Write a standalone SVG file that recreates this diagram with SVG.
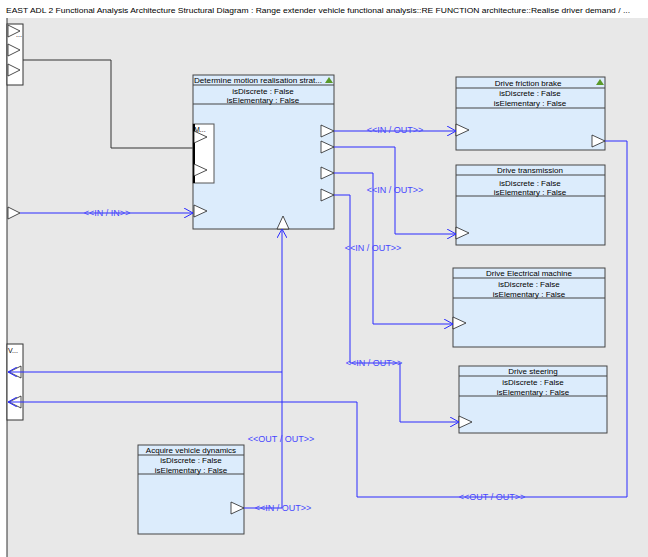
<svg xmlns="http://www.w3.org/2000/svg" width="648" height="557" viewBox="0 0 648 557">
<defs>
<style>
.t{font-family:"Liberation Sans",Arial,sans-serif;font-size:8px;fill:#000;text-anchor:middle}
.box{fill:#dcecfc;stroke:#444;stroke-width:1}
.hd{stroke:#444;stroke-width:1}
.port{fill:#fff;stroke:#222;stroke-width:0.8}
.conn{fill:none;stroke:#2a2aff;stroke-width:1}
.lbl{font-family:"Liberation Sans",Arial,sans-serif;font-size:9px;fill:#4646ff;text-anchor:middle}
.ico{fill:#5a9a2a}
</style>
<marker id="ar" viewBox="0 0 10 10" refX="9" refY="5" markerWidth="10" markerHeight="10" markerUnits="userSpaceOnUse" orient="auto">
<path d="M0,0 L9,5 L0,10" fill="none" stroke="#2a2aff" stroke-width="1"/>
</marker>
</defs>
<rect x="0" y="0" width="648" height="557" fill="#fff"/>
<rect x="7" y="18" width="641" height="539" fill="#e8e8e8"/>
<line x1="7" y1="18" x2="7" y2="557" stroke="#333"/>
<text x="6" y="13" font-family="Liberation Sans,Arial,sans-serif" font-size="8" textLength="624" lengthAdjust="spacingAndGlyphs">EAST ADL 2 Functional Analysis Architecture Structural Diagram : Range extender vehicle functional analysis::RE FUNCTION architecture::Realise driver demand  / ...</text>

<g id="left-top-ports">
<rect x="7" y="24" width="16" height="61" fill="#fff" stroke="#333"/>
<polygon class="port" points="8,25 20,31 8,37"/>
<text x="16" y="37" font-family="Liberation Sans,Arial,sans-serif" font-size="7">...</text>
<polygon class="port" points="8,44 20,50 8,56"/>
<polygon class="port" points="8,64 20,70 8,76"/>
</g>
<line x1="23" y1="60" x2="111" y2="60" stroke="#333"/>
<polyline points="111,60 111,148 193,148" fill="none" stroke="#333"/>

<g id="left-bottom-ports">
<rect x="7" y="344" width="16" height="76" fill="#fff" stroke="#333"/>
<text x="8" y="353" font-family="Liberation Sans,Arial,sans-serif" font-size="7">V...</text>
<polygon class="port" points="21,366 9,372 21,378"/>
<polygon class="port" points="21,396 9,402 21,408"/>
</g>

<g id="left-in-port">
<polygon class="port" points="8,207 20,213 8,219"/>
</g>

<g id="determine-motion">
<rect class="box" x="193" y="75" width="141" height="154"/>
<line class="hd" x1="193" y1="85" x2="334" y2="85"/>
<line class="hd" x1="193" y1="104" x2="334" y2="104"/>
<text x="194" y="83" font-family="Liberation Sans,Arial,sans-serif" font-size="8" textLength="128" lengthAdjust="spacingAndGlyphs">Determine motion realisation strat...</text>
<polygon class="ico" points="325,83 329,77 333,83"/>
<text class="t" x="263" y="94">isDiscrete : False</text>
<text class="t" x="263" y="103">isElementary : False</text>
<rect x="193" y="124" width="21" height="59" fill="#fff" stroke="#555"/>
<line x1="194" y1="124" x2="194" y2="183" stroke="#000" stroke-width="2"/>
<text x="194" y="132" font-family="Liberation Sans,Arial,sans-serif" font-size="7">M...</text>
<polygon class="port" points="194,131 207,137 194,143"/>
<polygon class="port" points="194,164 207,170 194,176"/>
<polygon class="port" points="194,205 207,211 194,217"/>
<polygon class="port" points="321,125 334,131 321,137"/>
<polygon class="port" points="321,141 334,147 321,153"/>
<polygon class="port" points="321,167 334,173 321,179"/>
<polygon class="port" points="321,189 334,195 321,201"/>
<polygon class="port" points="277,229 283,216 289,229"/>
</g>

<g id="drive-friction-brake">
<rect class="box" x="456" y="77" width="149" height="73"/>
<line class="hd" x1="456" y1="88" x2="605" y2="88"/>
<line class="hd" x1="456" y1="108" x2="605" y2="108"/>
<text class="t" x="528" y="86">Drive friction brake</text>
<polygon class="ico" points="596,85 600,79 604,85"/>
<text class="t" x="530" y="96">isDiscrete : False</text>
<text class="t" x="530" y="106">isElementary : False</text>
<polygon class="port" points="456,124 469,130 456,136"/>
<polygon class="port" points="592,135 605,141 592,147"/>
</g>

<g id="drive-transmission">
<rect class="box" x="456" y="165" width="149" height="80"/>
<line class="hd" x1="456" y1="175" x2="605" y2="175"/>
<line class="hd" x1="456" y1="196" x2="605" y2="196"/>
<text class="t" x="530" y="173">Drive transmission</text>
<text class="t" x="530" y="186">isDiscrete : False</text>
<text class="t" x="530" y="195">isElementary : False</text>
<polygon class="port" points="456,227 469,233 456,239"/>
</g>

<g id="drive-electrical-machine">
<rect class="box" x="453" y="268" width="152" height="79"/>
<line class="hd" x1="453" y1="278" x2="605" y2="278"/>
<line class="hd" x1="453" y1="298" x2="605" y2="298"/>
<text class="t" x="529" y="276">Drive Electrical machine</text>
<text class="t" x="529" y="287">isDiscrete : False</text>
<text class="t" x="529" y="297">isElementary : False</text>
<polygon class="port" points="453,317 466,323 453,329"/>
</g>

<g id="drive-steering">
<rect class="box" x="459" y="366" width="148" height="67"/>
<line class="hd" x1="459" y1="376" x2="607" y2="376"/>
<line class="hd" x1="459" y1="396" x2="607" y2="396"/>
<text class="t" x="533" y="374">Drive steering</text>
<text class="t" x="533" y="385">isDiscrete : False</text>
<text class="t" x="533" y="395">isElementary : False</text>
<polygon class="port" points="459,416 472,422 459,428"/>
</g>

<g id="acquire-vehicle-dynamics">
<rect class="box" x="138" y="445" width="106" height="89"/>
<line class="hd" x1="138" y1="455" x2="244" y2="455"/>
<line class="hd" x1="138" y1="474" x2="244" y2="474"/>
<text class="t" x="191" y="453">Acquire vehicle dynamics</text>
<text class="t" x="191" y="463">isDiscrete : False</text>
<text class="t" x="191" y="472.5">isElementary : False</text>
<polygon class="port" points="231,502 244,508 231,514"/>
</g>

<g id="connectors">
<path class="conn" d="M20,213 H193" marker-end="url(#ar)"/>
<path class="conn" d="M334,131 H456" marker-end="url(#ar)"/>
<path class="conn" d="M334,147 H395 V234 H456" marker-end="url(#ar)"/>
<path class="conn" d="M334,173 H373 V324 H453" marker-end="url(#ar)"/>
<path class="conn" d="M334,195 H350 V363 H400 V422 H459" marker-end="url(#ar)"/>
<path class="conn" d="M605,141 H627 V497 H357 V402 H8" marker-end="url(#ar)"/>
<path class="conn" d="M244,508 H282 V229" marker-end="url(#ar)"/>
<path class="conn" d="M282,372 H8" marker-end="url(#ar)"/>
<text class="lbl" x="107" y="216">&lt;&lt;IN / IN&gt;&gt;</text>
<text class="lbl" x="395" y="133">&lt;&lt;IN / OUT&gt;&gt;</text>
<text class="lbl" x="395" y="193">&lt;&lt;IN / OUT&gt;&gt;</text>
<text class="lbl" x="373" y="251">&lt;&lt;IN / OUT&gt;&gt;</text>
<text class="lbl" x="374" y="366">&lt;&lt;IN / OUT&gt;&gt;</text>
<text class="lbl" x="492" y="500">&lt;&lt;OUT / OUT&gt;&gt;</text>
<text class="lbl" x="281" y="442">&lt;&lt;OUT / OUT&gt;&gt;</text>
<text class="lbl" x="283" y="511">&lt;&lt;IN / OUT&gt;&gt;</text>
</g>
</svg>
